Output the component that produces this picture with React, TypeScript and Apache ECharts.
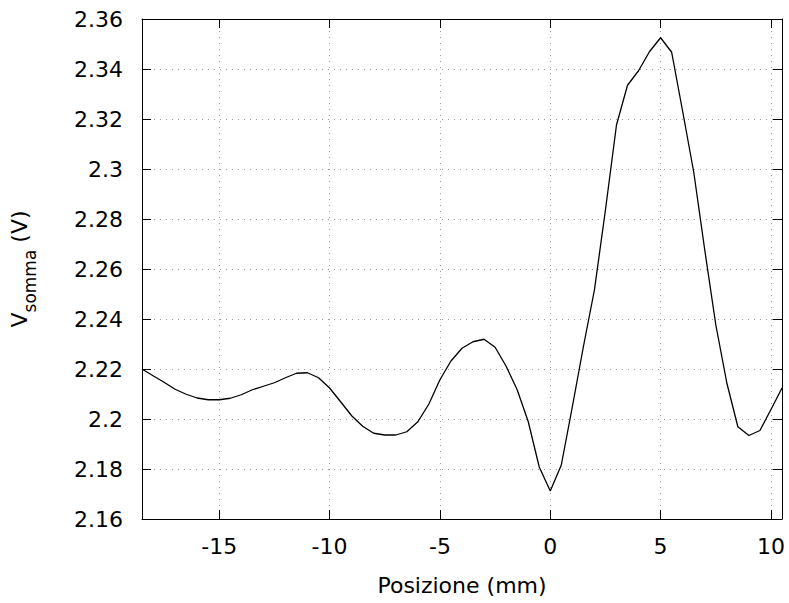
import React, { useEffect, useRef } from "react";
import * as echarts from "echarts";

const xValues: number[] = [
  -18.5, -18, -17.5, -17, -16.5, -16, -15.5, -15, -14.5, -14, -13.5, -13, -12.5, -12,
  -11.5, -11, -10.5, -10, -9.5, -9, -8.5, -8, -7.5, -7, -6.5, -6, -5.5, -5, -4.5, -4,
  -3.5, -3, -2.5, -2, -1.5, -1, -0.5, 0, 0.5, 1, 1.5, 2, 2.5, 3, 3.5, 4, 4.5, 5, 5.5,
  6, 6.5, 7, 7.5, 8, 8.5, 9, 9.5, 10, 10.5,
];

const vSomma: number[] = [
  2.22, 2.2173, 2.2147, 2.2119, 2.2099, 2.2084, 2.2077, 2.2077, 2.2083, 2.2097, 2.2117,
  2.2131, 2.2145, 2.2165, 2.2183, 2.2185, 2.2165, 2.2124, 2.2069, 2.2013, 2.1971, 2.1943,
  2.1936, 2.1936, 2.1949, 2.1989, 2.206, 2.2157, 2.2232, 2.2283, 2.2309, 2.2319, 2.2287,
  2.2211, 2.2117, 2.199, 2.1808, 2.1712, 2.1816, 2.2049, 2.2289, 2.2516, 2.2836, 2.3176,
  2.3335, 2.3393, 2.347, 2.3525, 2.3467, 2.323, 2.2988, 2.2676, 2.2377, 2.2144, 2.1969,
  2.1934, 2.1954, 2.2038, 2.2124,
];

const X_MIN = -18.5;
const X_MAX = 10.5;
const Y_MIN = 2.16;
const Y_MAX = 2.36;
const Y_STEP = 0.02;

const FONT = "DejaVu Sans";

export default function App() {
  const ref = useRef<HTMLDivElement>(null);

  useEffect(() => {
    if (!ref.current) return;
    const chart = echarts.init(ref.current, undefined, { renderer: "svg" });
    const gridLine = { show: true, lineStyle: { color: "#9a9a9a", width: 1, type: [1, 5] as any } };
    const axisLine = { show: true, onZero: false, lineStyle: { color: "#000", width: 1 } };
    const tick = { show: true, inside: true, length: 9, lineStyle: { color: "#000", width: 1 } };
    const labelStyle = { color: "#000", fontFamily: FONT, fontSize: 22 };
    const xFmt = (v: number) => (Math.abs(v % 5) < 1e-9 ? String(v) : "");

    chart.setOption({
      animation: false,
      grid: { left: 139, right: 7, top: 19, bottom: 84, containLabel: false },
      xAxis: [
        {
          type: "value",
          min: X_MIN,
          max: X_MAX,
          position: "bottom",
          axisLine,
          axisTick: tick,
          splitLine: gridLine,
          axisLabel: { ...labelStyle, margin: 16, formatter: xFmt, showMinLabel: false, showMaxLabel: false },
          name: "Posizione (mm)",
          nameLocation: "middle",
          nameGap: 55,
          nameTextStyle: { color: "#000", fontFamily: FONT, fontSize: 22 },
        },
        {
          type: "value",
          min: X_MIN,
          max: X_MAX,
          position: "top",
          axisLine,
          axisTick: tick,
          splitLine: { show: false },
          axisLabel: { show: false },
        },
      ],
      yAxis: [
        {
          type: "value",
          min: Y_MIN,
          max: Y_MAX,
          interval: Y_STEP,
          position: "left",
          axisLine,
          axisTick: tick,
          splitLine: gridLine,
          axisLabel: { ...labelStyle, margin: 19 },
          name: "{v|V}{s|somma}{v| (V)}",
          nameLocation: "middle",
          nameRotate: 90,
          nameGap: 104,
          nameTextStyle: {
            color: "#000",
            fontFamily: FONT,
            rich: {
              v: { fontSize: 22, fontFamily: FONT, color: "#000", lineHeight: 30, verticalAlign: "top" },
              s: { fontSize: 17, fontFamily: FONT, color: "#000", lineHeight: 30, verticalAlign: "bottom" },
            },
          },
        },
        {
          type: "value",
          min: Y_MIN,
          max: Y_MAX,
          interval: Y_STEP,
          position: "right",
          axisLine,
          axisTick: tick,
          splitLine: { show: false },
          axisLabel: { show: false },
        },
      ],
      series: [
        {
          type: "line",
          data: xValues.map((x, i) => [x, vSomma[i]]),
          showSymbol: false,
          lineStyle: { color: "#000", width: 1.3 },
          itemStyle: { color: "#000" },
          clip: true,
        },
      ],
    });
    return () => chart.dispose();
  }, []);

  return <div ref={ref} style={{ width: 789, height: 603, position: "absolute", left: 0, top: 0 }} />;
}
